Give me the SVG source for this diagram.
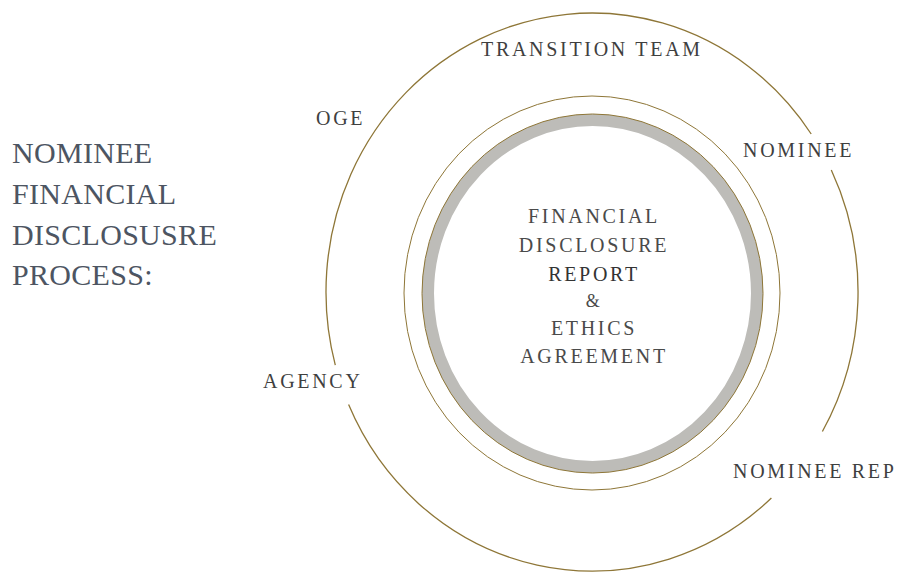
<svg xmlns="http://www.w3.org/2000/svg" width="897" height="572" viewBox="0 0 897 572">
<style>
.gold{fill:none;stroke:#8e7637;stroke-width:1.3}
.thin{fill:none;stroke:#8e7637;stroke-width:1}
.lbl{font-family:"Liberation Serif","Times New Roman",serif;font-size:20px;letter-spacing:2.7px;fill:#3f3f3f}
.ctr{font-family:"Liberation Serif","Times New Roman",serif;font-size:20px;letter-spacing:2.7px;fill:#4a4a4a;text-anchor:middle}
.ttl{font-family:"Liberation Serif","Times New Roman",serif;font-size:30px;letter-spacing:0.3px;fill:#4d5562}
</style>
<rect width="897" height="572" fill="#ffffff"/>
<g id="title">
<text class="ttl" x="12" y="163">NOMINEE</text>
<text class="ttl" x="12" y="204">FINANCIAL</text>
<text class="ttl" x="12" y="245">DISCLOSUSRE</text>
<text class="ttl" x="12" y="285">PROCESS:</text>
</g>
<g id="connectors">
<path class="gold" d="M831.3,170.1 A266,279 0 0 1 822.4,431.5"/>
<path class="gold" d="M771.4,498 A266,279 0 0 1 348.6,404.6"/>
<path class="gold" d="M335.3,365.2 A266,279 0 0 1 811.2,134"/>
<ellipse class="thin" cx="592" cy="293" rx="188" ry="197"/>
</g>
<g id="center">
<ellipse cx="592.5" cy="293.5" rx="164.5" ry="173.5" fill="#ffffff" stroke="#bdbcb8" stroke-width="12"/>
<ellipse class="thin" cx="592.5" cy="293.5" rx="170.5" ry="179.5"/>
<text class="ctr" x="594" y="223">FINANCIAL</text>
<text class="ctr" x="594" y="252">DISCLOSURE</text>
<text class="ctr" x="594" y="281" style="fill:#333333">REPORT</text>
<text class="ctr" x="594" y="307" style="font-size:18px">&amp;</text>
<text class="ctr" x="594" y="335">ETHICS</text>
<text class="ctr" x="594" y="363">AGREEMENT</text>
</g>
<g id="transition-team"><text class="lbl" x="481" y="56">TRANSITION TEAM</text></g>
<g id="oge"><text class="lbl" x="316" y="125">OGE</text></g>
<g id="nominee"><text class="lbl" x="743" y="157">NOMINEE</text></g>
<g id="nominee-rep"><text class="lbl" x="733" y="478">NOMINEE REP</text></g>
<g id="agency"><text class="lbl" x="263" y="388">AGENCY</text></g>
</svg>
